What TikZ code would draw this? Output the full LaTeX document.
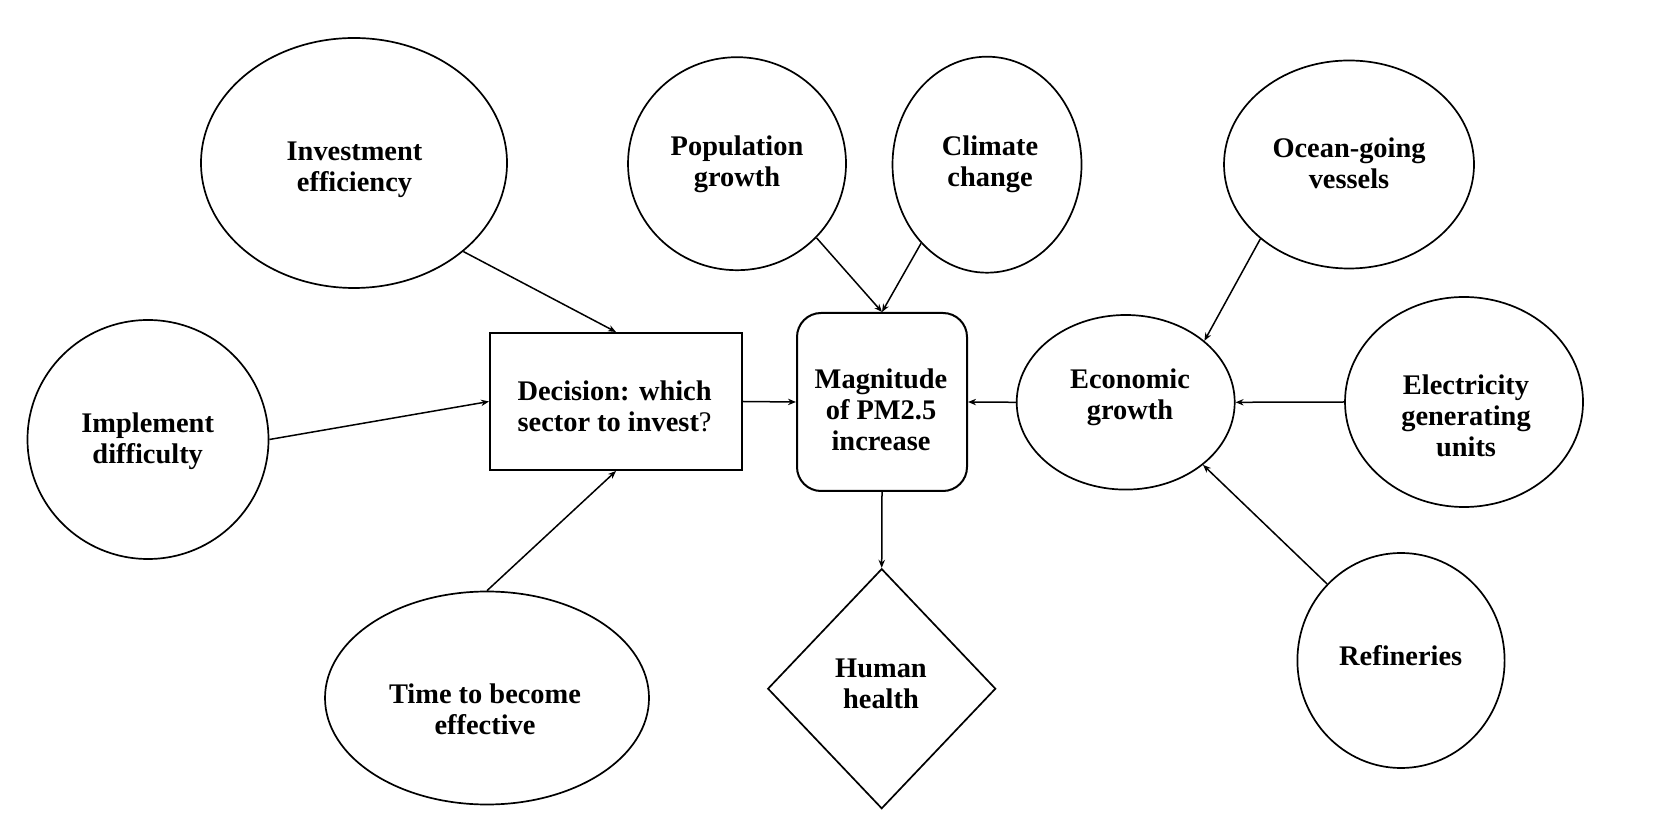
\documentclass[tikz,border=0pt]{standalone}
\usepackage{fontspec}
\setmainfont{Liberation Serif}
\usetikzlibrary{shapes.geometric,arrows.meta}
\begin{document}
\begin{tikzpicture}[x=0.5pt,y=-0.5pt,
  ell/.style={draw,ellipse,line width=0.85pt,inner sep=0pt},
  boxed/.style={draw,rectangle,line width=1pt,inner sep=0pt},
  txt/.style={align=center,font=\fontsize{14.2}{15.5}\selectfont\bfseries,inner sep=0pt},
  arr/.style={-{Stealth[length=4pt,width=3.2pt]},line width=0.75pt}]
\useasboundingbox (0,0) rectangle (1668,838);
\fill[white] (0,0) rectangle (1668,838);
% shapes
\node[ell,minimum width=153pt,minimum height=125pt] (inv) at (354,163) {};
\node[ell,minimum width=120.5pt,minimum height=119.5pt] (imp) at (148,439.5) {};
\node[ell,minimum width=162pt,minimum height=106.5pt] (tim) at (487,698) {};
\node[ell,minimum width=109pt,minimum height=106.5pt] (pop) at (737,163.7) {};
\node[ell,minimum width=94.5pt,minimum height=108pt] (cli) at (987,164.7) {};
\node[ell,minimum width=125pt,minimum height=104pt] (oce) at (1349,164.5) {};
\node[ell,minimum width=109pt,minimum height=87.3pt] (eco) at (1125.7,402.3) {};
\node[ell,minimum width=119pt,minimum height=105pt] (ele) at (1464,402) {};
\node[ell,minimum width=103.6pt,minimum height=107.5pt] (ref) at (1401,660.5) {};
\node[boxed,minimum width=126pt,minimum height=68.5pt] (dec) at (616,401.5) {};
\node[boxed,rounded corners=12pt,minimum width=85pt,minimum height=89pt] (mag) at (882,402) {};
\node[draw,diamond,line width=0.85pt,inner sep=0pt,minimum width=114pt,minimum height=120pt] (hum) at (881.7,688.7) {};
% texts
\node[txt] (inv-t) at (354.5,169.5) {Investment\\efficiency};
\node[txt] (imp-t) at (147.7,441.5) {Implement\\difficulty};
\node[txt] (tim-t) at (485,709) {Time to become\\effective};
\node[txt] (pop-t) at (737,164.4) {Population\\growth};
\node[txt] (cli-t) at (990,164) {Climate\\change};
\node[txt] (oce-t) at (1349,163.5) {Ocean-going\\vessels};
\node[txt] (eco-t) at (1130,397) {Economic\\growth};
\node[txt] (ele-t) at (1466,415.8) {Electricity\\generating\\units};
\node[txt] (ref-t) at (1400.7,655.2) {Refineries};
\node[txt] (dec-t) at (614.6,406.4) {Decision: which\\sector to invest{\mdseries ?}};
\node[txt] (mag-t) at (881,409.9) {Magnitude\\of PM2.5\\increase};
\node[txt] (hum-t) at (881,683.5) {Human\\health};
% connectors
\draw[arr] (inv.-39) -- (dec.north);
\draw[arr] (imp.east) -- (dec.west);
\draw[arr] (tim.north) -- (dec.south);
\draw[arr] (dec.east) -- (mag.west);
\draw[arr] (pop.-43) -- (mag.north);
\draw[arr] (cli.-130) -- (mag.north);
\draw[arr] (eco.west) -- (mag.east);
\draw[arr] (mag.south) -- (hum.north);
\draw[arr] (oce.-140) -- (eco.38);
\draw[arr] (ele.west) -- (eco.east);
\draw[arr] (ref.134) -- (eco.-39);
\end{tikzpicture}
\end{document}
